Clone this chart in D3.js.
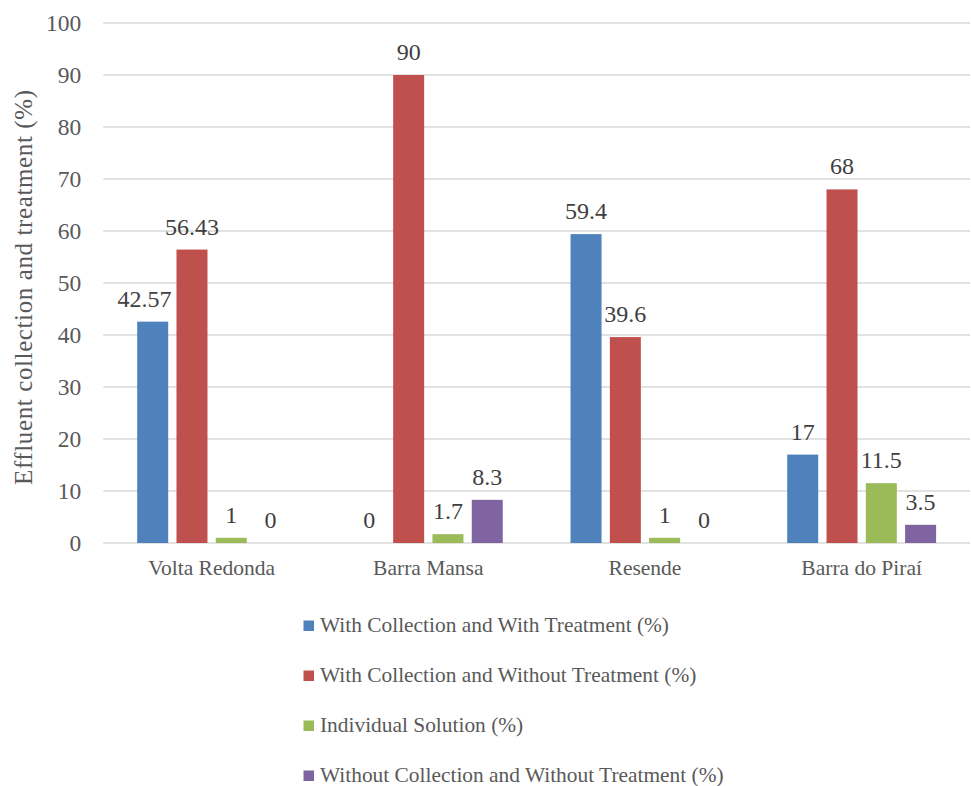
<!DOCTYPE html>
<html>
<head>
<meta charset="utf-8">
<script src="https://cdn.jsdelivr.net/npm/d3@7"></script>
<style>
  html, body { margin: 0; padding: 0; background: #fff; }
</style>
</head>
<body>
<svg id="chart" width="971" height="786"></svg>
<script>
// Municipalities on the x axis
const cities = ["Volta Redonda", "Barra Mansa", "Resende", "Barra do Piraí"];

// Series names (legend order)
const seriesNames = [
  "With Collection and With Treatment (%)",
  "With Collection and Without Treatment (%)",
  "Individual Solution (%)",
  "Without Collection and Without Treatment (%)"
];

// Values per series, one per municipality
const withCollectionWithTreatment = [42.57, 0, 59.4, 17];
const withCollectionWithoutTreatment = [56.43, 90, 39.6, 68];
const individualSolution = [1, 1.7, 1, 11.5];
const withoutCollectionWithoutTreatment = [0, 8.3, 0, 3.5];

const yTicks = [0, 10, 20, 30, 40, 50, 60, 70, 80, 90, 100];
const yTitle = "Effluent collection and treatment (%)";

const seriesValues = [
  withCollectionWithTreatment,
  withCollectionWithoutTreatment,
  individualSolution,
  withoutCollectionWithoutTreatment
];
const colors = ["#4f81bd", "#c0504d", "#9bbb59", "#8064a2"];
const FONT = "Liberation Serif";

const svg = d3.select("#chart");
const plot = { left: 103.3, right: 970, top: 23, bottom: 543 };

const x0 = d3.scaleBand().domain(cities).range([plot.left, plot.right]).padding(0);
const groupInner = 148.9;
const groupOffset = (x0.bandwidth() - groupInner) / 2;
const x1 = d3.scaleBand().domain(d3.range(seriesNames.length))
  .range([groupOffset, groupOffset + groupInner]).paddingInner(0.211).paddingOuter(0);
const y = d3.scaleLinear().domain([0, 100]).range([plot.bottom, plot.top]);

// Horizontal gridlines
svg.append("g")
  .selectAll("line")
  .data(yTicks)
  .join("line")
  .attr("x1", plot.left)
  .attr("x2", plot.right)
  .attr("y1", d => y(d))
  .attr("y2", d => y(d))
  .attr("stroke", "#d9d9d9")
  .attr("stroke-width", 1.3);

// Y axis tick labels
const yAxis = d3.axisLeft(y).tickValues(yTicks).tickSize(0).tickPadding(0);
const yg = svg.append("g").attr("transform", `translate(${plot.left - 22},0)`).call(yAxis);
yg.attr("font-family", FONT);
yg.select(".domain").remove();
yg.selectAll("text")
  .attr("font-family", FONT)
  .attr("font-size", 23.5)
  .attr("fill", "#595959")
  .attr("dy", "0.33em");

// Y axis title
svg.append("text")
  .attr("transform", "translate(32,287.5) rotate(-90)")
  .attr("text-anchor", "middle")
  .attr("font-family", FONT)
  .attr("font-size", 25)
  .attr("fill", "#595959")
  .attr("textLength", 395)
  .attr("lengthAdjust", "spacing")
  .text(yTitle);

// X axis category labels
const xAxis = d3.axisBottom(x0).tickSize(0).tickPadding(0);
const xg = svg.append("g").attr("transform", `translate(0,${plot.bottom + 25.5})`).call(xAxis);
xg.attr("font-family", FONT);
xg.select(".domain").remove();
xg.selectAll("text")
  .attr("font-family", FONT)
  .attr("font-size", 21.5)
  .attr("fill", "#595959")
  .attr("dy", "0.3em");

// Bars
const rows = cities.map((c, i) => ({ city: c, vals: seriesValues.map(s => s[i]) }));
const groups = svg.append("g").selectAll("g")
  .data(rows)
  .join("g")
  .attr("transform", d => `translate(${x0(d.city)},0)`);

groups.selectAll("rect")
  .data(d => d.vals.map((v, k) => ({ v, k })))
  .join("rect")
  .attr("x", d => x1(d.k))
  .attr("width", x1.bandwidth())
  .attr("y", d => y(d.v))
  .attr("height", d => y(0) - y(d.v))
  .attr("fill", d => colors[d.k]);

// Value labels above each bar; nudged left when they would run into a taller neighbour
groups.each(function (row) {
  const g = d3.select(this);
  row.vals.forEach((v, k) => {
    const cx = x1(k) + x1.bandwidth() / 2;
    const baseline = y(v) - 15;
    const t = g.append("text")
      .attr("x", cx)
      .attr("y", baseline)
      .attr("text-anchor", "middle")
      .attr("font-family", FONT)
      .attr("font-size", 24)
      .attr("fill", "#404040")
      .text(String(v));
    const w = t.node().getComputedTextLength();
    if (k + 1 < row.vals.length) {
      const nextLeft = x1(k + 1);
      const nextTop = y(row.vals[k + 1]);
      if (cx + w / 2 > nextLeft - 3 && nextTop < baseline) {
        t.attr("x", nextLeft - 5 - w / 2);
      }
    }
  });
});

// Legend
const legend = svg.append("g");
seriesNames.forEach((name, i) => {
  const baseY = 632 + i * 50;
  legend.append("rect")
    .attr("x", 303.5)
    .attr("y", baseY - 11.5)
    .attr("width", 10.5)
    .attr("height", 10.5)
    .attr("fill", colors[i]);
  legend.append("text")
    .attr("x", 320)
    .attr("y", baseY)
    .attr("font-family", FONT)
    .attr("font-size", 21.4)
    .attr("fill", "#595959")
    .text(name);
});
</script>
</body>
</html>
